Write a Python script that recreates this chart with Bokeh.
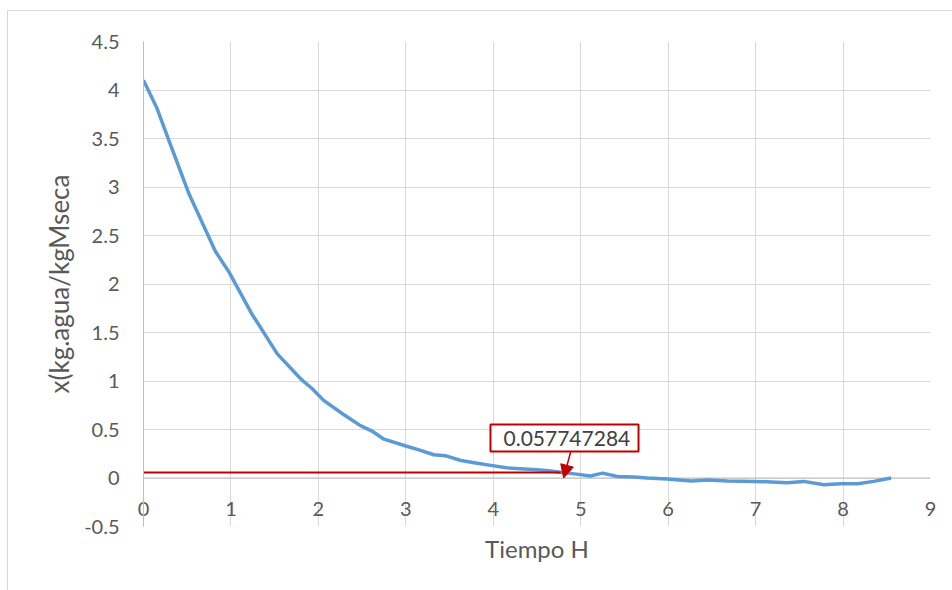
from bokeh.plotting import figure
from bokeh.models import (Range1d, FixedTicker, Arrow, NormalHead, BoxAnnotation,
                          Label, Title, Span)
from bokeh.embed import file_html
from bokeh.resources import INLINE

# Drying curve: moisture content vs. time
time_h = [0.00, 0.15, 0.29, 0.52, 0.82, 0.98, 1.24, 1.53, 1.80, 1.93, 2.06, 2.28,
          2.48, 2.62, 2.75, 3.00, 3.15, 3.32, 3.45, 3.63, 3.80, 3.97, 4.15, 4.31,
          4.50, 4.63, 4.77, 4.95, 5.11, 5.25, 5.42, 5.61, 5.76, 5.99, 6.26, 6.45,
          6.68, 6.98, 7.18, 7.36, 7.55, 7.78, 7.97, 8.17, 8.35, 8.55]
moisture = [4.10, 3.82, 3.48, 2.93, 2.34, 2.12, 1.69, 1.28, 1.02, 0.92, 0.80, 0.66,
            0.54, 0.48, 0.40, 0.33, 0.29, 0.24, 0.23, 0.18, 0.155, 0.13, 0.105, 0.095,
            0.085, 0.075, 0.06, 0.04, 0.02, 0.05, 0.016, 0.01, 0.0, -0.01, -0.03, -0.02,
            -0.03, -0.035, -0.04, -0.05, -0.035, -0.07, -0.06, -0.06, -0.035, 0.0]

x_ticks = [0, 1, 2, 3, 4, 5, 6, 7, 8, 9]
y_ticks = [-0.5, 0, 0.5, 1, 1.5, 2, 2.5, 3, 3.5, 4, 4.5]
y_tick_labels = ["-0.5", "0", "0.5", "1", "1.5", "2", "2.5", "3", "3.5", "4", "4.5"]

# Marked equilibrium moisture value and the time where it is reached
marked_value = 0.057747284
marked_time = 4.77

RED = "#c00000"
BLUE = "#5b9bd5"
GRID = "#d9d9d9"
AXIS = "#bfbfbf"
TEXT = "#595959"
FONT = "Lato"

# Thin chart-area border drawn as the page background behind a transparent canvas
chart_border = ("linear-gradient(#d9d9d9, #d9d9d9) 7px 10px / 1px 100% no-repeat, "
                "linear-gradient(#d9d9d9, #d9d9d9) 7px 10px / 100% 1px no-repeat, white")

p = figure(width=952, height=590, output_backend="svg", toolbar_location=None,
           x_range=Range1d(0, 9), y_range=Range1d(-0.5, 4.5),
           min_border_left=143, min_border_right=22, min_border_top=41,
           min_border_bottom=64, styles={"background": chart_border})
p.outline_line_color = None
p.background_fill_color = "white"
p.border_fill_color = None

# Grid
p.xgrid.ticker = FixedTicker(ticks=x_ticks)
p.ygrid.ticker = FixedTicker(ticks=y_ticks)
for g in (p.xgrid, p.ygrid):
    g.grid_line_color = GRID
    g.grid_line_width = 1

# Horizontal axis line at zero; tick labels sit just under it
p.add_layout(Span(location=0, dimension="width", line_color=AXIS, line_width=1,
                  level="underlay"))

xa = p.xaxis[0]
xa.ticker = FixedTicker(ticks=x_ticks)
xa.axis_line_color = None
xa.major_tick_line_color = None
xa.minor_tick_line_color = None
xa.major_label_standoff = -31
xa.major_label_text_font = FONT
xa.major_label_text_font_size = "20px"
xa.major_label_text_color = TEXT

ya = p.yaxis[0]
ya.ticker = FixedTicker(ticks=y_ticks)
ya.major_label_overrides = {t: s for t, s in zip(y_ticks, y_tick_labels)}
ya.axis_line_color = AXIS
ya.major_tick_line_color = None
ya.minor_tick_line_color = None
ya.major_label_standoff = 18
ya.major_label_text_font = FONT
ya.major_label_text_font_size = "20px"
ya.major_label_text_color = TEXT

# Vertical axis title, set a little above the middle of the plot area
p.add_layout(Title(text="x(kg.agua/kgMseca", align="center", offset=28, standoff=13,
                   text_font=FONT, text_font_size="26px", text_font_style="normal",
                   text_color=TEXT), "left")

p.add_layout(Title(text="Tiempo H", align="center", text_font=FONT,
                   text_font_size="24px", text_font_style="normal",
                   text_color=TEXT), "below")

# Curve
p.line(time_h, moisture, line_color=BLUE, line_width=3.5, line_join="round")

# Marker line for the equilibrium value
p.segment(x0=[0], y0=[marked_value], x1=[marked_time], y1=[marked_value],
          line_color=RED, line_width=2)

# Callout with the value
p.add_layout(BoxAnnotation(left=3.968, right=5.661, bottom=0.273, top=0.5515,
                           fill_color="white", fill_alpha=1.0,
                           line_color=RED, line_width=2, line_alpha=1.0))
p.add_layout(Label(x=4.117, y=0.41, text=f"{marked_value}", text_font=FONT,
                   text_font_size="21px", text_color="#404040",
                   text_align="left", text_baseline="middle"))
p.add_layout(Arrow(x_start=4.886, y_start=0.273, x_end=4.805, y_end=0.0,
                   line_color=RED, line_width=1.5,
                   end=NormalHead(size=13, fill_color=RED, line_color=RED)))

open("out.html", "w").write(file_html(p, INLINE))
